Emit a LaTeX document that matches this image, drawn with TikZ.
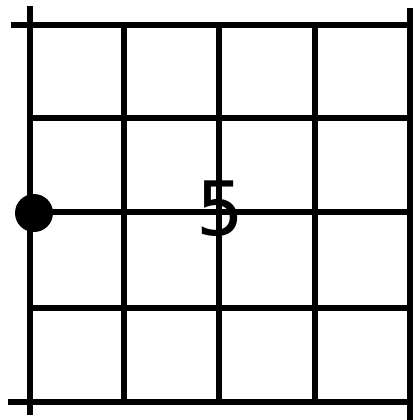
\documentclass[tikz,border=0pt]{standalone}
\usepackage{fontspec}
\newfontfamily\digitfont{DejaVu Sans}
\usepackage{tikz}
\usetikzlibrary{positioning,calc}
\tikzset{
  gridline/.style={
    draw=black, line width=5.5pt, line cap=butt
  },
  fingerdot/.style={
    circle, fill=black, draw=none,
    minimum size=38pt, inner sep=0pt
  },
  fretlabel/.style={
    font=\fontsize{75}{75}\selectfont\digitfont,
    inner sep=0pt, text=black
  },
}

\begin{document}
\begin{tikzpicture}[x=1pt, y=-1pt]
  \useasboundingbox (0,0) rectangle (412,420);
  % strings
  \draw[gridline] (30,6) -- (30,415);
  \foreach \xs in {124,219,315}
    \draw[gridline] (\xs,25) -- (\xs,402);
  \draw[gridline] (410,8) -- (410,420);
  % frets
  \draw[gridline] (11,25) -- (412,25);
  \foreach \yf in {118,212,308}
    \draw[gridline] (30,\yf) -- (412,\yf);
  \draw[gridline] (8,402) -- (412,402);
  % marks
  \node[fingerdot] (dot) at (34,213) {};
  \node[fretlabel] (fret) at (220,209) {5};
\end{tikzpicture}
\end{document}
